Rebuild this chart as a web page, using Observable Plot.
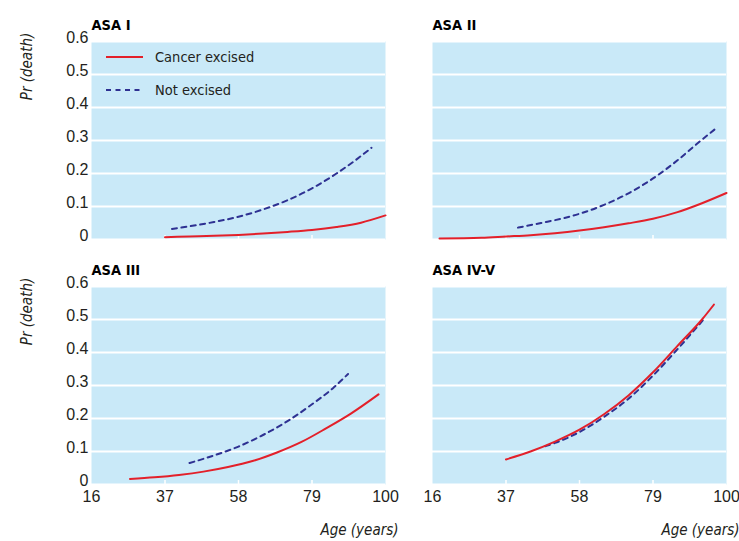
<!DOCTYPE html>
<html>
<head>
<meta charset="utf-8">
<script src="https://cdn.jsdelivr.net/npm/d3@7"></script>
<script src="https://cdn.jsdelivr.net/npm/@observablehq/plot@0.6"></script>
<style>
  html, body { margin: 0; padding: 0; background: #fff; }
  #wrap { position: relative; width: 739px; height: 541px; }
  #legend { position: absolute; left: 0; top: 0; pointer-events: none; }
</style>
</head>
<body>
<div id="wrap"></div>
<script>
// ---- data ----
const panels = ["ASA I", "ASA II", "ASA III", "ASA IV-V"];
const panelCols = ["left", "right", "left", "right"];
const panelRows = ["top", "top", "bottom", "bottom"];
const seriesNames = ["Cancer excised", "Not excised"];
const xTicks = [16, 37, 58, 79, 100];
const xInnerTicks = [37, 58, 79];
const yTicks = [0, 0.1, 0.2, 0.3, 0.4, 0.5, 0.6];

// [age, Pr(death)]
const asaI_excised = [[37,0.007],[44,0.009],[51,0.011],[58,0.014],[65,0.018],[72,0.023],[79,0.029],[86,0.038],[93,0.051],[100,0.073]];
const asaI_notExcised = [[39,0.032],[44,0.040],[51,0.053],[58,0.069],[65,0.091],[72,0.119],[79,0.155],[86,0.200],[91,0.237],[96,0.278]];
const asaII_excised = [[18,0.003],[30,0.005],[37,0.009],[44,0.013],[51,0.019],[58,0.027],[65,0.037],[72,0.049],[79,0.063],[86,0.083],[93,0.110],[100,0.141]];
const asaII_notExcised = [[40.4,0.036],[47,0.050],[54,0.066],[58,0.078],[65,0.105],[72,0.140],[79,0.185],[86,0.240],[91,0.285],[96.8,0.335]];
const asaIII_excised = [[27,0.017],[34,0.022],[41,0.029],[48,0.039],[55,0.053],[62,0.071],[69,0.097],[76,0.129],[83,0.170],[90,0.214],[98,0.273]];
const asaIII_notExcised = [[44,0.065],[51,0.088],[58,0.115],[65,0.150],[72,0.192],[79,0.243],[85,0.292],[89.3,0.335]];
const asaIV_excised = [[37,0.076],[44,0.100],[51,0.130],[58,0.166],[65,0.213],[72,0.270],[79,0.340],[86,0.420],[93,0.500],[96.4,0.545]];
const asaIV_notExcised = [[48.2,0.116],[51,0.126],[58,0.159],[65,0.205],[72,0.260],[79,0.330],[86,0.410],[93.7,0.503]];

const curves = [
  [asaI_excised, asaI_notExcised],
  [asaII_excised, asaII_notExcised],
  [asaIII_excised, asaIII_notExcised],
  [asaIV_excised, asaIV_notExcised]
];

// ---- build table ----
const rows = [];
curves.forEach((pair, p) => {
  pair.forEach((pts, s) => {
    pts.forEach(([age, pr]) => rows.push({panel: panels[p], col: panelCols[p], row: panelRows[p], series: seriesNames[s], age, pr}));
  });
});
const panelTable = panels.map((name, i) => ({name, col: panelCols[i], row: panelRows[i]}));
const leftPanels = panelTable.filter(d => d.col === "left");
const bottomPanels = panelTable.filter(d => d.row === "bottom");

const RED = "#e3202a", BLUE = "#2e3192", BG = "#c9e9f8", INK = "#231f20";
const NARROW = "'DejaVu Sans Condensed', 'DejaVu Sans', sans-serif";

const chart = Plot.plot({
  width: 739,
  height: 541,
  marginLeft: 90,
  marginRight: 12,
  marginTop: 41,
  marginBottom: 57,
  style: {fontFamily: "'Liberation Sans', Arial, sans-serif", fontSize: "16px", color: INK, background: "#fff"},
  fx: {domain: ["left", "right"], paddingInner: 0.137, paddingOuter: 0, axis: null},
  fy: {domain: ["top", "bottom"], paddingInner: 0.192, paddingOuter: 0, axis: null},
  x: {domain: [16, 100], label: null},
  y: {domain: [0, 0.6], label: null},
  marks: [
    Plot.frame({fill: BG, stroke: null}),
    Plot.gridY(yTicks, {stroke: "#fff", strokeOpacity: 1, strokeWidth: 2}),
    Plot.ruleX(xInnerTicks, {x: d => d, y1: 0, y2: 0.012, stroke: "#fff", strokeWidth: 1.5}),
    Plot.axisY({ticks: yTicks, tickFormat: d => d === 0 ? "0" : d.toFixed(1),
                tickSize: 0, tickPadding: 3, dy: -4, label: null, fill: INK, fontSize: 16}),
    Plot.axisX({ticks: xTicks, tickSize: 0, tickPadding: 6, label: null, fill: INK, fontSize: 16}),
    Plot.line(rows.filter(d => d.series === "Not excised"), {
      x: "age", y: "pr", z: "panel", fx: "col", fy: "row",
      stroke: BLUE, strokeWidth: 2, strokeDasharray: "5,4.5", curve: "monotone-x"
    }),
    Plot.line(rows.filter(d => d.series === "Cancer excised"), {
      x: "age", y: "pr", z: "panel", fx: "col", fy: "row",
      stroke: RED, strokeWidth: 2, curve: "monotone-x"
    }),
    Plot.text(panelTable, {
      fx: "col", fy: "row", text: "name", frameAnchor: "top-left",
      textAnchor: "start", lineAnchor: "bottom", dy: -12,
      fontWeight: "bold", fontSize: 14.5, fontFamily: NARROW, fill: "#000"
    }),
    Plot.text(leftPanels, {
      fx: "col", fy: "row", text: () => "Pr (death)", frameAnchor: "top-left",
      rotate: -90, textAnchor: "middle", dx: -70, dy: 25,
      fontStyle: "italic", fontSize: 15, fontFamily: NARROW, fill: INK
    }),
    Plot.text(bottomPanels, {
      fx: "col", fy: "row", text: () => "Age (years)", frameAnchor: "bottom-right",
      textAnchor: "end", lineAnchor: "bottom", dx: 13, dy: 50,
      fontStyle: "italic", fontSize: 15, fontFamily: NARROW, fill: INK
    })
  ]
});

const wrap = document.getElementById("wrap");
wrap.appendChild(chart);

// legend (inside ASA I panel)
const ns = "http://www.w3.org/2000/svg";
const leg = document.createElementNS(ns, "svg");
leg.setAttribute("id", "legend");
leg.setAttribute("width", 739);
leg.setAttribute("height", 541);
const legendItems = [
  {name: seriesNames[0], color: RED, dash: null, y: 57},
  {name: seriesNames[1], color: BLUE, dash: "5,4.5", y: 90}
];
legendItems.forEach(it => {
  const l = document.createElementNS(ns, "line");
  l.setAttribute("x1", 106); l.setAttribute("x2", 143);
  l.setAttribute("y1", it.y); l.setAttribute("y2", it.y);
  l.setAttribute("stroke", it.color); l.setAttribute("stroke-width", 2);
  if (it.dash) l.setAttribute("stroke-dasharray", it.dash);
  leg.appendChild(l);
  const t = document.createElementNS(ns, "text");
  t.setAttribute("x", 155); t.setAttribute("y", it.y + 5);
  t.setAttribute("font-family", "DejaVu Sans Condensed, DejaVu Sans, sans-serif");
  t.setAttribute("font-size", 14.5);
  t.setAttribute("fill", INK);
  t.textContent = it.name;
  leg.appendChild(t);
});
wrap.appendChild(leg);
</script>
</body>
</html>
